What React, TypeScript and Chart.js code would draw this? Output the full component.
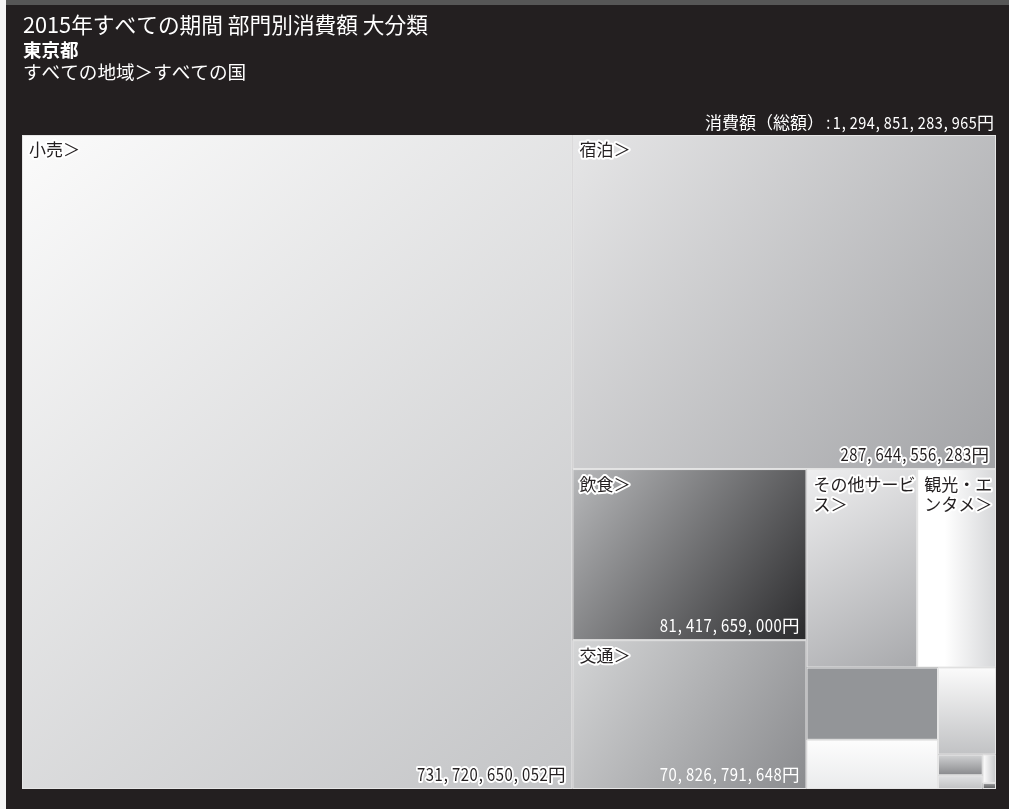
import React, { useEffect, useRef } from 'react';
import { Chart, registerables } from 'chart.js';

Chart.register(...registerables);

// ---------- data ----------
const titleText = '2015年すべての期間 部門別消費額 大分類';
const prefectureText = '東京都';
const regionPathText = 'すべての地域＞すべての国';
const totalCaption = '消費額（総額）';

const categories = [
  '小売',
  '宿泊',
  '飲食',
  '交通',
  'その他サービス',
  '観光・エンタメ',
  '',
  '',
  '',
  '',
  '',
  '',
  '',
];

const values = [
  731720650052,
  287644556283,
  81417659000,
  70826791648,
  44661626982,
  31790000000,
  19320000000,
  13150000000,
  10260000000,
  1880000000,
  1250000000,
  770000000,
  160000000,
];

// ---------- styles (one per cell) ----------
type Fill = { kind: 'diag' | 'h' | 'v' | 'solid'; colors: string[]; stops?: number[] };
const cellFills: Fill[] = [
  { kind: 'diag', colors: ['#fbfbfb', '#c3c4c6'] },
  { kind: 'diag', colors: ['#e6e6e7', '#a2a3a6'] },
  { kind: 'diag', colors: ['#b8b9bb', '#2a2a2c'] },
  { kind: 'diag', colors: ['#d4d5d6', '#8a8b8e'] },
  { kind: 'diag', colors: ['#efeff0', '#a8a9ac'] },
  { kind: 'h', colors: ['#ffffff', '#ffffff', '#d6d7d9'], stops: [0, 0.35, 1] },
  { kind: 'solid', colors: ['#939598'] },
  { kind: 'v', colors: ['#fdfdfd', '#eaebec'] },
  { kind: 'v', colors: ['#fbfbfb', '#c1c2c4'] },
  { kind: 'v', colors: ['#d2d3d4', '#88898c'] },
  { kind: 'v', colors: ['#e2e3e4', '#c0c1c3'] },
  { kind: 'h', colors: ['#ffffff', '#c5c6c8'] },
  { kind: 'v', colors: ['#9a9b9d', '#58595b'] },
];

const FONT = '"Noto Sans CJK JP", "Noto Sans", sans-serif';
const DARK = '#231f20';

// ---------- squarified layout (d3-style, golden ratio) ----------
type R = { x0: number; y0: number; x1: number; y1: number };
function squarify(vals: number[], x0: number, y0: number, x1: number, y1: number): R[] {
  const ratio = (1 + Math.sqrt(5)) / 2;
  const out: R[] = new Array(vals.length);
  let value = vals.reduce((a, b) => a + b, 0);
  let i0 = 0;
  let i1 = 0;
  const n = vals.length;
  while (i0 < n) {
    const dx = x1 - x0;
    const dy = y1 - y0;
    let sumValue = 0;
    do sumValue = vals[i1++]; while (!sumValue && i1 < n);
    let minValue = sumValue;
    let maxValue = sumValue;
    const alpha = Math.max(dy / dx, dx / dy) / (value * ratio);
    let beta = sumValue * sumValue * alpha;
    let minRatio = Math.max(maxValue / beta, beta / minValue);
    for (; i1 < n; ++i1) {
      const nv = vals[i1];
      sumValue += nv;
      if (nv < minValue) minValue = nv;
      if (nv > maxValue) maxValue = nv;
      beta = sumValue * sumValue * alpha;
      const newRatio = Math.max(maxValue / beta, beta / minValue);
      if (newRatio > minRatio) {
        sumValue -= nv;
        break;
      }
      minRatio = newRatio;
    }
    if (dx < dy) {
      const ny = dy ? y0 + (dy * sumValue) / value : y1;
      const k = sumValue ? (x1 - x0) / sumValue : 0;
      let x = x0;
      for (let i = i0; i < i1; i++) {
        const w = vals[i] * k;
        out[i] = { x0: x, y0, x1: x + w, y1: ny };
        x += w;
      }
      y0 = ny;
    } else {
      const nx = dx ? x0 + (dx * sumValue) / value : x1;
      const k = sumValue ? (y1 - y0) / sumValue : 0;
      let y = y0;
      for (let i = i0; i < i1; i++) {
        const h = vals[i] * k;
        out[i] = { x0, y0: y, x1: nx, y1: y + h };
        y += h;
      }
      x0 = nx;
    }
    value -= sumValue;
    i0 = i1;
  }
  return out;
}

function fmtYen(v: number) {
  return String(v).replace(/\B(?=(\d{3})+(?!\d))/g, ',') + '円';
}

function brightness(hex: string) {
  const h = hex.replace('#', '');
  const r = parseInt(h.slice(0, 2), 16);
  const g = parseInt(h.slice(2, 4), 16);
  const b = parseInt(h.slice(4, 6), 16);
  return 0.299 * r + 0.587 * g + 0.114 * b;
}

// mixed text: narrow fixed-width digits/commas, full-width CJK
function measureMixed(text: string, F: number) {
  let w = 0;
  for (const ch of text) w += /[0-9,.:]/.test(ch) ? F * 0.5 : F;
  return w;
}
function drawMixed(
  ctx: CanvasRenderingContext2D,
  text: string,
  x: number,
  y: number,
  F: number,
  align: 'left' | 'right',
  color: string,
  halo: string | null
) {
  ctx.save();
  ctx.font = `${F}px ${FONT}`;
  ctx.textAlign = 'center';
  ctx.textBaseline = 'middle';
  const total = measureMixed(text, F);
  const start = align === 'right' ? x - total : x;
  const passes = halo ? ['stroke', 'fill'] : ['fill'];
  for (const pass of passes) {
    let cx = start;
    for (const ch of text) {
      const narrow = /[0-9,.:]/.test(ch);
      const adv = narrow ? F * 0.5 : F;
      ctx.save();
      ctx.translate(cx + adv / 2, y);
      if (narrow) ctx.scale(0.85, 1);
      if (ch === ',') ctx.translate(-F * 0.1, 0);
      if (pass === 'stroke') {
        ctx.strokeStyle = halo as string;
        ctx.lineWidth = 4;
        ctx.lineJoin = 'round';
        ctx.strokeText(ch, 0, 0);
      } else {
        ctx.fillStyle = color;
        ctx.fillText(ch, 0, 0);
      }
      ctx.restore();
      cx += adv;
    }
  }
  ctx.restore();
}

function wrapChars(ctx: CanvasRenderingContext2D, text: string, maxW: number) {
  const lines: string[] = [];
  let cur = '';
  for (const ch of text) {
    if (cur && ctx.measureText(cur + ch).width > maxW) {
      lines.push(cur);
      cur = ch;
    } else cur += ch;
  }
  if (cur) lines.push(cur);
  return lines;
}

const treemapPlugin = {
  id: 'treemapCells',
  afterDatasetsDraw(chart: any) {
    const { ctx, chartArea: ca, scales } = chart;
    const xs = scales.x;
    const ys = scales.y;
    const aspect = ca.width / ca.height;
    const rects = squarify(values, 0, 0, aspect, 1);
    const px = rects.map((r) => ({
      x0: xs.getPixelForValue(r.x0 / aspect),
      x1: xs.getPixelForValue(r.x1 / aspect),
      y0: ys.getPixelForValue(r.y0),
      y1: ys.getPixelForValue(r.y1),
    }));
    ctx.save();
    px.forEach((p, i) => {
      const f = cellFills[i];
      let fill: any;
      if (f.kind === 'solid') fill = f.colors[0];
      else {
        const g =
          f.kind === 'diag'
            ? ctx.createLinearGradient(p.x0, p.y0, p.x1, p.y1)
            : f.kind === 'h'
            ? ctx.createLinearGradient(p.x0, p.y0, p.x1, p.y0)
            : ctx.createLinearGradient(p.x0, p.y0, p.x0, p.y1);
        f.colors.forEach((c, k) => {
          const s = f.stops ? f.stops[k] : k / (f.colors.length - 1);
          g.addColorStop(s, c);
        });
        fill = g;
      }
      ctx.fillStyle = fill;
      ctx.fillRect(p.x0, p.y0, p.x1 - p.x0, p.y1 - p.y0);
      ctx.strokeStyle = '#e6e6e6';
      ctx.lineWidth = 1;
      ctx.strokeRect(p.x0 + 0.5, p.y0 + 0.5, p.x1 - p.x0 - 1, p.y1 - p.y0 - 1);
    });
    // labels
    px.forEach((p, i) => {
      const w = p.x1 - p.x0;
      const h = p.y1 - p.y0;
      const name = categories[i];
      if (name) {
        ctx.save();
        const F = 17;
        ctx.font = `${F}px ${FONT}`;
        ctx.textAlign = 'left';
        ctx.textBaseline = 'middle';
        const lines = wrapChars(ctx, name + '＞', w - 8);
        lines.forEach((ln, k) => {
          const ty = p.y0 + 15 + k * 20;
          ctx.strokeStyle = '#ffffff';
          ctx.lineWidth = 4;
          ctx.lineJoin = 'round';
          ctx.strokeText(ln, p.x0 + 7, ty);
          ctx.fillStyle = DARK;
          ctx.fillText(ln, p.x0 + 7, ty);
        });
        ctx.restore();
        const vt = fmtYen(values[i]);
        const F2 = 17.5;
        if (measureMixed(vt, F2) <= w - 12 && h >= 60) {
          const f = cellFills[i];
          const endColor = f.colors[f.colors.length - 1];
          const dark = brightness(endColor) < 150;
          drawMixed(ctx, vt, p.x1 - 7, p.y1 - 15, F2, 'right', dark ? '#ffffff' : DARK, dark ? null : '#ffffff');
        }
      }
    });
    ctx.restore();
  },
  afterDraw(chart: any) {
    const { ctx, chartArea: ca } = chart;
    ctx.save();
    ctx.fillStyle = '#ffffff';
    ctx.textAlign = 'left';
    ctx.textBaseline = 'middle';
    ctx.font = `21.7px ${FONT}`;
    ctx.fillText(titleText, 23, 25);
    ctx.font = `bold 18.5px ${FONT}`;
    ctx.fillText(prefectureText, 23, 50);
    ctx.font = `18.6px ${FONT}`;
    ctx.fillText(regionPathText, 23, 72);
    ctx.restore();
    const total = values.reduce((a, b) => a + b, 0);
    drawMixed(ctx, totalCaption + ':' + fmtYen(total), ca.right - 2, ca.top - 12, 17, 'right', '#ffffff', null);
  },
};

export default function App() {
  const ref = useRef<HTMLCanvasElement | null>(null);
  useEffect(() => {
    if (!ref.current) return;
    const chart = new Chart(ref.current, {
      type: 'scatter',
      data: { datasets: [{ label: '部門別消費額', data: [], pointRadius: 0 }] },
      options: {
        animation: false,
        responsive: true,
        maintainAspectRatio: false,
        layout: { padding: { left: 22, right: 13, top: 135, bottom: 20 } },
        scales: {
          x: { type: 'linear', min: 0, max: 1, display: false },
          y: { type: 'linear', min: 0, max: 1, reverse: true, display: false },
        },
        plugins: { legend: { display: false }, tooltip: { enabled: false }, title: { display: false } },
      },
      plugins: [treemapPlugin],
    });
    return () => chart.destroy();
  }, []);
  return (
    <div style={{ position: 'absolute', left: 0, top: 0, width: 1009, height: 809, background: DARK, overflow: 'hidden' }}>
      <div style={{ position: 'absolute', left: 0, top: 0, width: 6, height: 809, background: '#f4f4f4' }} />
      <div style={{ position: 'absolute', left: 6, top: 0, width: 1003, height: 5, background: '#565656' }} />
      <div style={{ position: 'absolute', left: 0, top: 0, width: 1009, height: 809 }}>
        <canvas ref={ref} />
      </div>
    </div>
  );
}
